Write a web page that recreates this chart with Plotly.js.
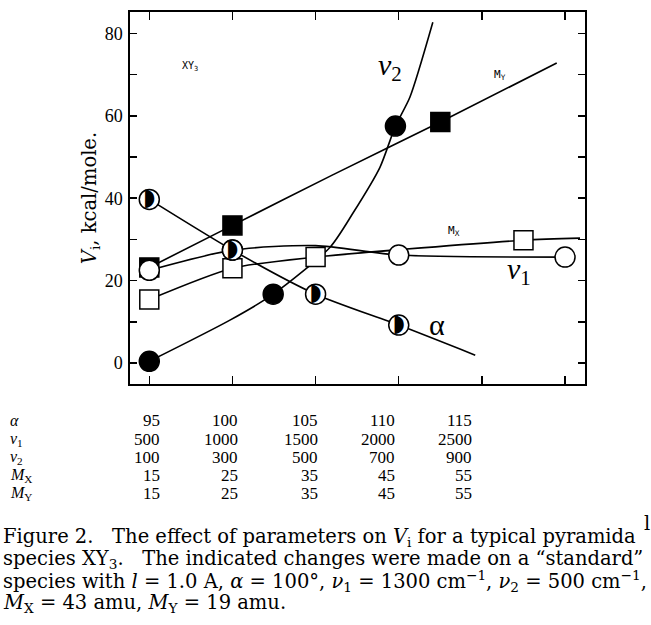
<!DOCTYPE html>
<html><head><meta charset="utf-8">
<script src="https://cdn.plot.ly/plotly-3.0.1.min.js"></script>
<style>html,body{margin:0;padding:0;background:#fff;overflow:hidden}#chart{width:651px;height:625px}</style>
</head><body><div id="chart"></div>
<script>
// abscissa: common scale (alpha units, 95..120)
const alphaX = [95, 100, 105, 110];
const alphaY = [39.7, 27.4, 16.7, 9.2];
const alphaLineX = [95, 100, 105, 110, 114.6];
const alphaLineY = [39.7, 27.4, 16.7, 9.2, 1.9];

const nu2X = [95, 102.45, 109.8];
const nu2Y = [0.4, 16.7, 57.5];
const nu2LineX = [95, 99.85, 102.45, 105.87, 107.25, 108.87, 109.8, 110.67, 112.05];
const nu2LineY = [0.4, 10.4, 16.7, 28.1, 36.4, 47.5, 57.5, 64.5, 82.7];

const myX = [95, 100, 112.5];
const myY = [23.2, 33.4, 58.5];
const myLineX = [95, 100, 106, 112.5, 119.5];
const myLineY = [23.2, 33.4, 45.6, 58.5, 72.8];

const mxX = [95, 100, 105, 117.5];
const mxY = [15.4, 23.0, 25.7, 29.8];
const mxLineX = [95, 100, 105, 117.5, 120.9];
const mxLineY = [15.4, 23.0, 25.7, 29.8, 30.3];

const nu1X = [95, 100, 110, 120];
const nu1Y = [22.5, 27.4, 26.2, 25.7];
const nu1LineX = [95, 100, 105, 110, 120];
const nu1LineY = [22.5, 27.4, 28.5, 26.2, 25.7];

const xTicks = [95, 100, 105, 110, 115, 120];
const yTicks = [0, 10, 20, 30, 40, 50, 60, 70, 80];
const yTickText = ['0', '', '20', '', '40', '', '60', '', '80'];

// table under the chart
const rowLabels = ['<i>α</i>', '<i>ν</i><sub>1</sub>', '<i>ν</i><sub>2</sub>', '<i>M</i><sub>X</sub>', '<i>M</i><sub>Y</sub>'];
const rowAlpha = [95, 100, 105, 110, 115];
const rowNu1 = [500, 1000, 1500, 2000, 2500];
const rowNu2 = [100, 300, 500, 700, 900];
const rowMX = [15, 25, 35, 45, 55];
const rowMY = [15, 25, 35, 45, 55];

const captionLines = [
  'Figure 2.\u00a0\u00a0 The effect of parameters on <i>V</i><sub>i</sub> for a typical pyramida',
  'species XY<sub>3</sub>.\u00a0\u00a0 The indicated changes were made on a \u201cstandard\u201d',
  'species with <i>l</i> = 1.0 A, <i>α</i> = 100°, <i>ν</i><sub>1</sub> = 1300 cm<sup>\u22121</sup>, <i>ν</i><sub>2</sub> = 500 cm<sup>\u22121</sup>,',
  '<i>M</i><sub>X</sub> = 43 amu, <i>M</i><sub>Y</sub> = 19 amu.'
];

// ---- layout geometry (pixels) ----
const W = 651, H = 625, L = 130, R = 66, T = 12, B = 241;
const PW = W - L - R, PH = H - T - B;
const X = px => (px - L) / PW;
const Y = py => (H - B - py) / PH;

const lineStyle = {color: '#000', width: 1.6, shape: 'spline', smoothing: 0.7};
function lineTrace(x, y) {
  return {x, y, type: 'scatter', mode: 'lines', line: lineStyle, hoverinfo: 'skip', cliponaxis: true};
}
const MS = 19;
const traces = [
  lineTrace(alphaLineX, alphaLineY),
  lineTrace(nu2LineX, nu2LineY),
  lineTrace(myLineX, myLineY),
  lineTrace(mxLineX, mxLineY),
  lineTrace(nu1LineX, nu1LineY),
  {x: myX, y: myY, type: 'scatter', mode: 'markers', name: 'M_Y',
   marker: {symbol: 'square', size: MS, color: '#000', line: {color: '#000', width: 1.5}}},
  {x: mxX, y: mxY, type: 'scatter', mode: 'markers', name: 'M_X',
   marker: {symbol: 'square', size: MS, color: '#fff', line: {color: '#000', width: 1.5}}},
  {x: nu2X, y: nu2Y, type: 'scatter', mode: 'markers', name: 'nu2',
   marker: {symbol: 'circle', size: MS + 1, color: '#000', line: {color: '#000', width: 1.5}}},
  {x: nu1X, y: nu1Y, type: 'scatter', mode: 'markers', name: 'nu1',
   marker: {symbol: 'circle', size: MS + 1, color: '#fff', line: {color: '#000', width: 1.5}}},
  {x: alphaX, y: alphaY, type: 'scatter', mode: 'markers', name: 'alpha',
   marker: {symbol: 'circle', size: MS + 1, color: '#fff', line: {color: '#000', width: 1.5}}},
  {x: alphaX, y: alphaY, type: 'scatter', mode: 'text', name: 'alpha-half',
   text: alphaX.map(() => '\u25D7'), textposition: 'middle center',
   textfont: {family: 'DejaVu Sans', size: 24, color: '#000'}, hoverinfo: 'skip'}
];

const annotations = [];
function ann(text, px, py, opts) {
  annotations.push(Object.assign({text, x: X(px), y: Y(py), xref: 'paper', yref: 'paper',
    showarrow: false, xanchor: 'left', yanchor: 'middle',
    font: {family: 'Liberation Serif', size: 17, color: '#000'}}, opts || {}));
}
// in-plot labels
ann('XY<sub>3</sub>', 180, 66, {font: {family: 'DejaVu Sans Mono', size: 10, color: '#000'}});
ann('<i>ν</i><sub>2</sub>', 376, 67, {font: {family: 'Liberation Serif', size: 30, color: '#000'}});
ann('M<sub>Y</sub>', 492, 75, {font: {family: 'DejaVu Sans Mono', size: 11, color: '#000'}});
ann('M<sub>X</sub>', 446, 231, {font: {family: 'DejaVu Sans Mono', size: 11, color: '#000'}});
ann('<i>ν</i><sub>1</sub>', 505, 271, {font: {family: 'Liberation Serif', size: 30, color: '#000'}});
ann('α', 437, 324, {xanchor: 'center', font: {family: 'Liberation Serif', size: 30, color: '#000'}});

// table
const rows = [rowAlpha, rowNu1, rowNu2, rowMX, rowMY];
const rowPy = [421, 439, 457, 475, 493];
const colRight = [162, 240, 320, 397, 474];
rows.forEach((vals, r) => {
  ann(rowLabels[r], 8, rowPy[r], {font: {family: 'Liberation Serif', size: 16, color: '#000'}});
  vals.forEach((v, c) => ann(String(v), colRight[c], rowPy[r], {xanchor: 'right'}));
});
// caption
const capFont = {family: 'DejaVu Serif', size: 19.5, color: '#000'};
const capPy = [537, 559, 581, 603];
captionLines.forEach((t, i) => ann(t, 1, capPy[i], {font: capFont}));
ann('l', 642, 523, {font: capFont});

const axisCommon = {showline: true, linecolor: '#000', linewidth: 1.6, mirror: 'ticks',
  ticks: 'inside', tickcolor: '#000', tickwidth: 1.5, showgrid: false, zeroline: false};
const layout = {
  width: W, height: H,
  margin: {l: L, r: R, t: T, b: B, pad: 0},
  paper_bgcolor: '#fff', plot_bgcolor: '#fff',
  showlegend: false,
  font: {family: 'Liberation Serif', color: '#000'},
  xaxis: Object.assign({}, axisCommon, {range: [93.84, 121.2], tickmode: 'array', tickvals: xTicks,
    showticklabels: false, ticklen: 8}),
  yaxis: Object.assign({}, axisCommon, {range: [-5.1, 85.2], tickmode: 'array', tickvals: yTicks,
    ticktext: yTickText, ticklen: 7, tickfont: {family: 'Liberation Serif', size: 18, color: '#000'},
    ticklabelstandoff: 2,
    title: {text: '<i>V</i><sub>i</sub>, kcal/mole.', font: {family: 'DejaVu Serif', size: 19.5, color: '#000'}, standoff: 3}}),
  annotations
};
Plotly.newPlot('chart', traces, layout, {staticPlot: true, displayModeBar: false});
</script></body></html>
